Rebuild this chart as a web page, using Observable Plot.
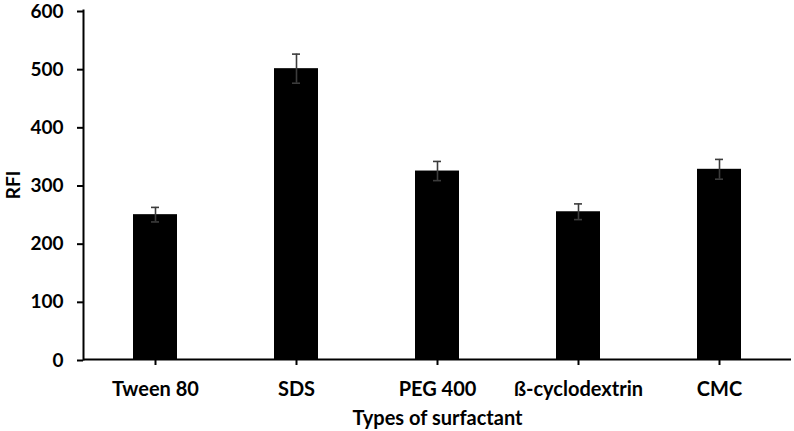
<!DOCTYPE html>
<html>
<head>
<meta charset="utf-8">
<script src="https://cdn.jsdelivr.net/npm/d3@7"></script>
<script src="https://cdn.jsdelivr.net/npm/@observablehq/plot@0.6"></script>
<style>
  html, body { margin: 0; padding: 0; background: #fff; }
  #chart svg { font-family: Lato, "Open Sans", sans-serif; font-weight: bold; }
</style>
</head>
<body>
<div id="chart"></div>
<script>
// Relative fluorescence intensity for each surfactant, with error bars
const categories = ["Tween 80", "SDS", "PEG 400", "ß-cyclodextrin", "CMC"];
const rfi = [249, 500, 324, 254, 327];
const errors = [12.5, 25, 16.5, 13.5, 17];
const yTicks = [0, 100, 200, 300, 400, 500, 600];

const rows = categories.map((name, i) => ({
  name,
  value: rfi[i],
  lo: rfi[i] - errors[i],
  hi: rfi[i] + errors[i]
}));

const chart = Plot.plot({
  width: 794,
  height: 431,
  marginLeft: 83,
  marginRight: 3,
  marginTop: 10,
  marginBottom: 72,
  style: { background: "#fff", color: "#000", fontSize: "20px", overflow: "visible" },
  x: { domain: categories, paddingInner: 0.685, paddingOuter: 0.3425, align: 0.5 },
  y: { domain: [0, 600] },
  marks: [
    Plot.barY(rows, { x: "name", y: "value", fill: "#000" }),
    Plot.ruleX(rows, { x: "name", y1: "lo", y2: "hi", stroke: "#3c3c3c", strokeWidth: 1.6 }),
    Plot.tickY(rows, { x: "name", y: "lo", stroke: "#3c3c3c", strokeWidth: 1.6, inset: 18 }),
    Plot.tickY(rows, { x: "name", y: "hi", stroke: "#3c3c3c", strokeWidth: 1.6, inset: 18 }),
    Plot.axisY({
      ticks: yTicks, tickSize: 6, tickPadding: 14, strokeWidth: 2,
      fontSize: 19, fontWeight: "bold", dy: 1,
      label: "RFI", labelAnchor: "center", labelOffset: 77, labelArrow: false
    }),
    Plot.axisX({
      tickSize: 6, tickPadding: 16, strokeWidth: 2,
      fontSize: 20, fontWeight: "bold",
      label: "Types of surfactant", labelAnchor: "center", labelOffset: 65, labelArrow: false
    }),
    Plot.frame({ anchor: "left", strokeWidth: 2 }),
    Plot.ruleY([0], { strokeWidth: 2 })
  ]
});

document.getElementById("chart").appendChild(chart);
</script>
</body>
</html>
